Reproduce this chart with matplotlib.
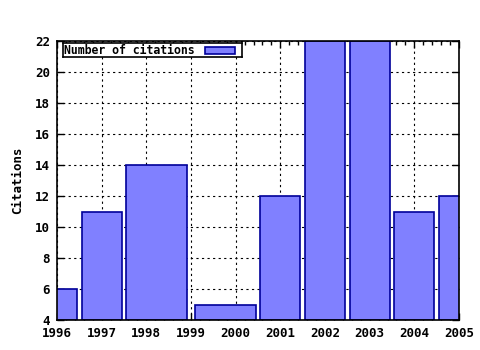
import numpy as np
import matplotlib
matplotlib.use("Agg")
import matplotlib.pyplot as plt
from matplotlib.ticker import MultipleLocator
from matplotlib.patches import Rectangle

years = [1996, 1997, 1998, 2000, 2001, 2002, 2003, 2004, 2005]
citations = [6, 11, 14, 5, 12, 22, 22, 11, 12]
xticks = list(range(1996, 2006))
yticks = list(range(4, 23, 2))

# gnuplot-style boxes: each box reaches 0.9 of the way to the neighbour midpoint
x = np.array(years, dtype=float)
half_left = np.empty_like(x)
half_right = np.empty_like(x)
half_left[1:] = (x[1:] - x[:-1]) / 2
half_left[0] = half_left[1]
half_right[:-1] = (x[1:] - x[:-1]) / 2
half_right[-1] = half_right[-2]
lefts = x - 0.9 * half_left
widths = 0.9 * (half_left + half_right)

plt.rcParams['font.family'] = 'DejaVu Sans Mono'
plt.rcParams['font.weight'] = 'bold'
plt.rcParams['axes.labelweight'] = 'bold'

fig = plt.figure(figsize=(4.8, 3.5), dpi=100)
ax = fig.add_axes([57/480, 30/350, 402/480, 279/350])

ax.bar(lefts, np.array(citations) - 4, bottom=4, width=widths, align='edge',
       color='#8080ff', edgecolor='#000099', linewidth=1.2, zorder=3)

ax.set_xlim(1996, 2005)
ax.set_ylim(4, 22)
ax.set_xticks(xticks)
ax.set_yticks(yticks)
ax.xaxis.set_minor_locator(MultipleLocator(0.2))
ax.tick_params(axis='both', which='major', direction='in', length=5, width=1,
               top=True, right=True, labelsize=9, pad=5)
ax.tick_params(axis='x', which='minor', direction='in', length=3, width=1,
               top=True, bottom=True)
ax.grid(True, which='major', linestyle=(0, (2, 3)), color='black', linewidth=0.8, zorder=0)
for s in ax.spines.values():
    s.set_linewidth(1.2)
    s.set_zorder(5)

ax.set_ylabel('Citations', fontsize=9, fontweight='bold', labelpad=8)

# legend box
leg_ax = fig.add_axes([63/480, (350-57)/350, 179/480, 14/350])
leg_ax.set_xlim(0, 179)
leg_ax.set_ylim(0, 14)
leg_ax.set_xticks([])
leg_ax.set_yticks([])
for s in leg_ax.spines.values():
    s.set_linewidth(1.2)
leg_ax.set_facecolor('white')
leg_ax.text(1, 7, 'Number of citations', fontsize=8.3, fontweight='bold', va='center', ha='left')
leg_ax.add_patch(Rectangle((142, 3.5), 30, 7, facecolor='#8080ff', edgecolor='#000099', linewidth=1.2))

fig.savefig('out.png', dpi=100)
